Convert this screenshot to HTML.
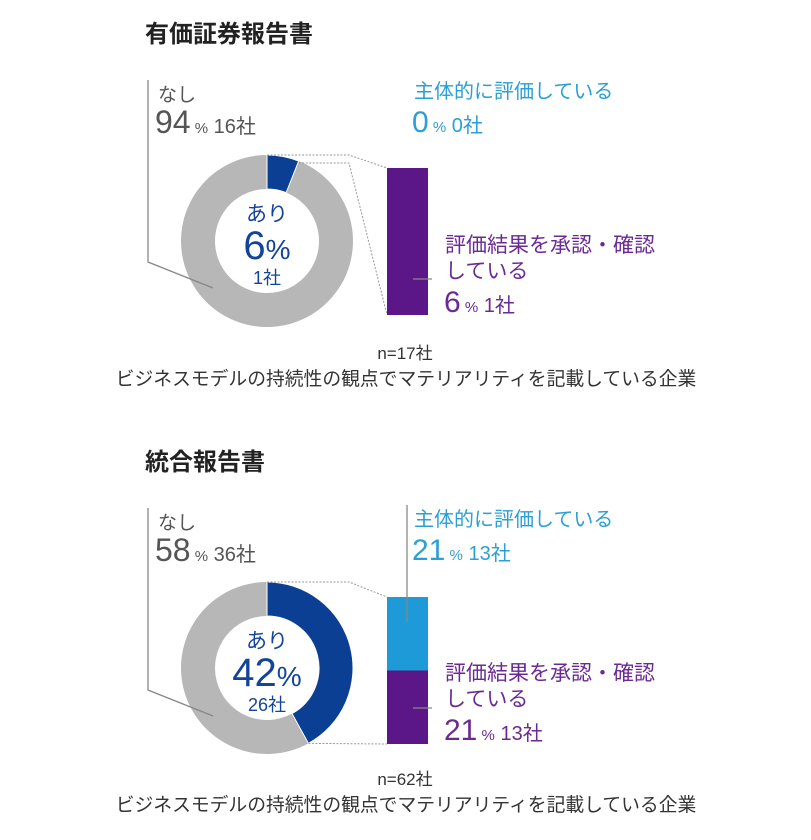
<!DOCTYPE html>
<html><head><meta charset="utf-8">
<style>
body{margin:0;background:#fff;}
svg{display:block;font-family:"Liberation Sans","Noto Sans CJK JP",sans-serif;}
</style></head>
<body>
<svg id="c" width="811" height="840" viewBox="0 0 811 840" xmlns="http://www.w3.org/2000/svg"></svg>
<script>
// data
const chartTitles = ["有価証券報告書", "統合報告書"];
const ariPct = [6, 42];
const ariCount = [1, 26];
const nashiPct = [94, 58];
const nashiCount = [16, 36];
const selfEvalPct = [0, 21];
const selfEvalCount = [0, 13];
const approvePct = [6, 21];
const approveCount = [1, 13];
const sampleN = [17, 62];

const NS = "http://www.w3.org/2000/svg";
const svg = document.getElementById('c');
function el(tag, attrs, parent){
  const e = document.createElementNS(NS, tag);
  for (const k in attrs) e.setAttribute(k, attrs[k]);
  (parent||svg).appendChild(e);
  return e;
}
function txt(x,y,size,fill,content,anchor,weight,parent){
  const t = el('text',{x:x,y:y,'font-size':size,fill:fill,'text-anchor':anchor||'start','font-weight':weight||'normal'},parent);
  t.innerHTML = content;
  return t;
}
function arcPath(cx,cy,r0,r1,a0,a1){
  const p=(r,a)=>[cx+r*Math.sin(a*2*Math.PI), cy-r*Math.cos(a*2*Math.PI)];
  const large = (a1-a0)>0.5?1:0;
  const [x1,y1]=p(r1,a0),[x2,y2]=p(r1,a1),[x3,y3]=p(r0,a1),[x4,y4]=p(r0,a0);
  return `M${x1},${y1} A${r1},${r1} 0 ${large} 1 ${x2},${y2} L${x3},${y3} A${r0},${r0} 0 ${large} 0 ${x4},${y4} Z`;
}
const GRAY="#b7b7b7", DARK="#0b3f93", LIGHT="#1e9ad8", PURPLE="#5b1787";
const TGRAY="#555", TBLUE="#2b9fd6", TPURPLE="#6b2a93", TDARK="#13449a";

const offsets=[0,428];
for(let i=0;i<2;i++){
  const oy=offsets[i];
  const g=el('g',{});
  
  
  const cx=267, cy=241+oy-(i?1:0), R=86, r=52;
  const t=txt(145,42+oy,24,'#222',chartTitles[i],'start','bold',g);
  
  
  const a=ariPct[i]/100;
  const gray=el('path',{d:arcPath(cx,cy,r,R,a,0.99999),fill:GRAY},g);
  
  
  const dark=el('path',{d:arcPath(cx,cy,r,R,0,a),fill:DARK,stroke:'#fff','stroke-width':1},g);
  
  
  txt(cx,cy-20,21,TDARK,'あり','middle','normal',g);
  const big=txt(cx,cy+18,40,TDARK,ariPct[i]+'<tspan font-size="28">%</tspan>','middle','normal',g);
  
  
  txt(cx,cy+43,18,TDARK,ariCount[i]+'社','middle','normal',g);
  txt(158,101+oy,19,TGRAY,'なし','start','normal',g);
  const nl=txt(155,133+oy,32,TGRAY,nashiPct[i]+'<tspan font-size="15"> %</tspan><tspan font-size="20">  '+nashiCount[i]+'社</tspan>','start','normal',g);
  
  
  el('polyline',{points:`148,${80+oy} 148,${262+oy} 213,${288+oy}`,fill:'none',stroke:'#888','stroke-width':1.3},g);
  const bx=387,bw=41,by0=168+oy+(i?1:0),bh=147;
  const totalSub=selfEvalPct[i]+approvePct[i];
  const h1=bh*selfEvalPct[i]/totalSub;
  if(h1>0){
    const b1=el('rect',{x:bx,y:by0,width:bw,height:h1,fill:LIGHT},g);
    
    
  }
  const b2=el('rect',{x:bx,y:by0+h1,width:bw,height:bh-h1,fill:PURPLE},g);
  
  
  const endAng=a*2*Math.PI;
  const ex=cx+R*Math.sin(endAng), ey=cy-R*Math.cos(endAng);
  el('polyline',{points:`${cx},${cy-R} ${bx-38},${cy-R} ${bx},${by0}`,fill:'none',stroke:'#999','stroke-width':1,'stroke-dasharray':'2,1.5'},g);
  el('polyline',{points:i?`${ex},${ey} ${bx},${by0+bh}`:`${ex},${ey+2} ${bx-38},${ey+2} ${bx},${by0+bh}`,fill:'none',stroke:'#999','stroke-width':1,'stroke-dasharray':'2,1.5'},g);
  txt(414,98+oy,20,TBLUE,'主体的に評価している','start','normal',g);
  const sl=txt(412,132+oy,30,TBLUE,selfEvalPct[i]+'<tspan font-size="15"> %</tspan><tspan font-size="20">  '+selfEvalCount[i]+'社</tspan>','start','normal',g);
  
  
  if(h1>0) el('line',{x1:407,y1:505,x2:407,y2:622,stroke:'#888','stroke-width':1.3},g);
  txt(445,252+oy,21,TPURPLE,'評価結果を承認・確認','start','normal',g);
  txt(445,278+oy,21,TPURPLE,'している','start','normal',g);
  const al=txt(444,312+oy,30,TPURPLE,approvePct[i]+'<tspan font-size="15"> %</tspan><tspan font-size="20">  '+approveCount[i]+'社</tspan>','start','normal',g);
  
  
  el('line',{x1:413,y1:279+oy+(i?1:0),x2:432,y2:279+oy+(i?1:0),stroke:'#888','stroke-width':1.3},g);
  const n=txt(405,359+oy-(i?2:0),17,'#333','n='+sampleN[i]+'社','middle','normal',g);
  
  
  const f=txt(406,385+oy-(i?2:0),18.8,'#333','ビジネスモデルの持続性の観点でマテリアリティを記載している企業','middle','normal',g);
  
  
}
</script>
</body></html>
